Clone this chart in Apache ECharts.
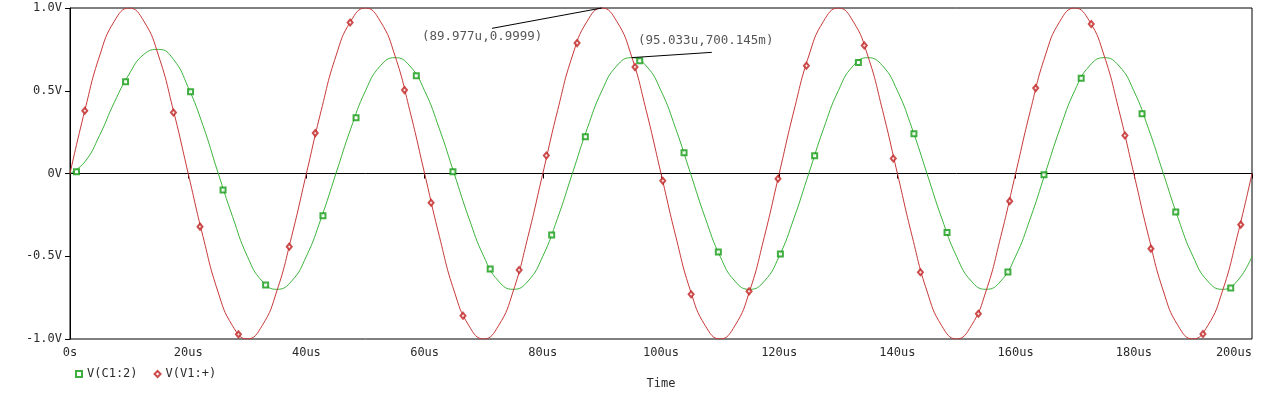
<!DOCTYPE html>
<html>
<head>
<meta charset="utf-8">
<script src="https://cdn.jsdelivr.net/npm/echarts@6/dist/echarts.min.js"></script>
<style>
html,body{margin:0;padding:0;background:#fff;}
#chart{width:1265px;height:395px;}
</style>
</head>
<body>
<div id="chart"></div>
<script>
// sample times (us)
var timeUs = [0,2.5,5,7.5,10,12.5,15,17.5,20,22.5,25,27.5,30,32.5,35,37.5,40,42.5,45,47.5,
  50,52.5,55,57.5,60,62.5,65,67.5,70,72.5,75,77.5,80,82.5,85,87.5,90,92.5,95,97.5,
  100,102.5,105,107.5,110,112.5,115,117.5,120,122.5,125,127.5,130,132.5,135,137.5,140,142.5,145,147.5,
  150,152.5,155,157.5,160,162.5,165,167.5,170,172.5,175,177.5,180,182.5,185,187.5,190,192.5,195,197.5,200];

// V(V1:+)
var vV1 = [0,0.38,0.71,0.92,1,0.92,0.71,0.38,0,-0.38,-0.71,-0.92,-1,-0.92,-0.71,-0.38,
  0,0.38,0.71,0.92,1,0.92,0.71,0.38,0,-0.38,-0.71,-0.92,-1,-0.92,-0.71,-0.38,
  0,0.38,0.71,0.92,1,0.92,0.71,0.38,0,-0.38,-0.71,-0.92,-1,-0.92,-0.71,-0.38,
  0,0.38,0.71,0.92,1,0.92,0.71,0.38,0,-0.38,-0.71,-0.92,-1,-0.92,-0.71,-0.38,
  0,0.38,0.71,0.92,1,0.92,0.71,0.38,0,-0.38,-0.71,-0.92,-1,-0.92,-0.71,-0.38,
  0];

// V(C1:2)
var vC1 = [0,0.07,0.23,0.43,0.60,0.72,0.75,0.69,0.52,0.29,0.01,-0.26,-0.50,-0.65,-0.70,-0.65,-0.50,
  -0.27,0,0.27,0.50,0.65,0.70,0.65,0.50,0.27,0,-0.27,-0.50,-0.65,-0.70,-0.65,-0.50,
  -0.27,0,0.27,0.50,0.65,0.70,0.65,0.50,0.27,0,-0.27,-0.50,-0.65,-0.70,-0.65,-0.50,
  -0.27,0,0.27,0.50,0.65,0.70,0.65,0.50,0.27,0,-0.27,-0.50,-0.65,-0.70,-0.65,-0.50,
  -0.27,0,0.27,0.50,0.65,0.70,0.65,0.50,0.27,0,-0.27,-0.50,-0.65,-0.70,-0.65,-0.50];

// marker points
var c1MarkT = [1.1,9.4,20.4,25.9,33.1,42.8,48.4,58.6,64.8,71.1,81.5,87.2,96.4,103.9,109.7,120.2,126.0,133.4,142.8,148.4,158.7,164.8,171.1,181.4,187.1,196.4];
var c1MarkV = [0.01,0.555,0.494,-0.099,-0.673,-0.256,0.337,0.59,0.01,-0.577,-0.371,0.222,0.682,0.125,-0.474,-0.486,0.107,0.670,0.24,-0.357,-0.595,-0.008,0.575,0.361,-0.232,-0.692];
var v1MarkT = [2.5,17.5,22.0,28.5,37.1,41.5,47.4,56.6,61.1,66.5,76.0,80.6,85.8,95.6,100.3,105.1,114.9,119.8,124.6,134.4,139.3,143.9,153.7,159.0,163.4,172.8,178.5,182.9,191.7,198.1];
var v1MarkV = [0.379,0.369,-0.321,-0.972,-0.442,0.244,0.912,0.504,-0.177,-0.859,-0.583,0.109,0.788,0.643,-0.044,-0.730,-0.712,-0.032,0.651,0.774,0.091,-0.597,-0.847,-0.167,0.516,0.903,0.230,-0.454,-0.97,-0.309];

// annotations
var annotPoints = [[89.977, 0.9999], [95.033, 0.700145]];
var annotAnchors = [[71.4, 0.877], [108.6, 0.732]];
var annotTexts = ['(89.977u,0.9999)', '(95.033u,700.145m)'];
var annotTextPos = [[59.55, 0.829], [96.1, 0.805]];

function zip(a, b) { return a.map(function (v, i) { return [v, b[i]]; }); }

var FONT = 'DejaVu Sans Mono';
var TXT = '#2a2a2a';
var chart = echarts.init(document.getElementById('chart'), null, {renderer: 'canvas'});
chart.setOption({
  animation: false,
  backgroundColor: '#ffffff',
  grid: {left: 70, right: 13, top: 8, bottom: 56, show: true, borderColor: '#000', borderWidth: 1, backgroundColor: 'transparent'},
  legend: {
    left: 70, top: 363, itemWidth: 6, itemHeight: 6, itemGap: 16,
    data: ['V(C1:2)', 'V(V1:+)'],
    textStyle: {fontFamily: FONT, fontSize: 12, color: TXT}
  },
  xAxis: {
    type: 'value', min: 0, max: 200, interval: 20,
    name: 'Time', nameLocation: 'middle', nameGap: 39,
    nameTextStyle: {fontFamily: FONT, fontSize: 12, color: TXT},
    axisLine: {show: true, lineStyle: {color: '#000', width: 1}},
    axisTick: {show: true, length: 5, lineStyle: {color: '#000'}},
    splitLine: {show: false},
    axisLabel: {
      fontFamily: FONT, fontSize: 12, color: TXT, margin: 8, alignMaxLabel: 'right',
      formatter: function (v) { return v === 0 ? '0s' : v + 'us'; }
    }
  },
  yAxis: {
    type: 'value', min: -1, max: 1, interval: 0.5,
    axisLine: {show: true, lineStyle: {color: '#000', width: 1}},
    axisTick: {show: true, length: 5, lineStyle: {color: '#000'}},
    splitLine: {show: false},
    axisLabel: {
      fontFamily: FONT, fontSize: 12, color: TXT, margin: 8,
      formatter: function (v) { return v === 0 ? '0V' : v.toFixed(1) + 'V'; }
    }
  },
  series: [
    {
      name: 'lineC1', type: 'line', data: zip(timeUs, vC1), smooth: 0.5,
      showSymbol: false, symbol: 'none', lineStyle: {color: '#3cb43c', width: 1}, z: 2
    },
    {
      name: 'lineV1', type: 'line', data: zip(timeUs, vV1), smooth: 0.5,
      showSymbol: false, symbol: 'none', lineStyle: {color: '#c83838', width: 1}, z: 3
    },
    {
      name: 'V(C1:2)', type: 'scatter', data: zip(c1MarkT, c1MarkV),
      symbol: 'emptyRect', symbolSize: 5,
      itemStyle: {color: '#109a10', borderColor: '#109a10', borderWidth: 1}, z: 4
    },
    {
      name: 'V(V1:+)', type: 'scatter', data: zip(v1MarkT, v1MarkV),
      symbol: 'emptyDiamond', symbolSize: [5, 6],
      itemStyle: {color: '#c02020', borderColor: '#c02020', borderWidth: 1}, z: 4
    },
    {
      name: 'annot', type: 'scatter', symbolSize: 0, silent: true, z: 5,
      data: annotTextPos.map(function (p, i) {
        return {value: p, label: {show: true, position: 'right', distance: 0, formatter: annotTexts[i],
          fontFamily: FONT, fontSize: 12.5, color: TXT}};
      }),
      markLine: {
        silent: true, symbol: 'none', label: {show: false},
        lineStyle: {color: '#000', width: 1, type: 'solid'},
        data: annotPoints.map(function (p, i) { return [{coord: p}, {coord: annotAnchors[i]}]; })
      }
    }
  ]
});
</script>
</body>
</html>
